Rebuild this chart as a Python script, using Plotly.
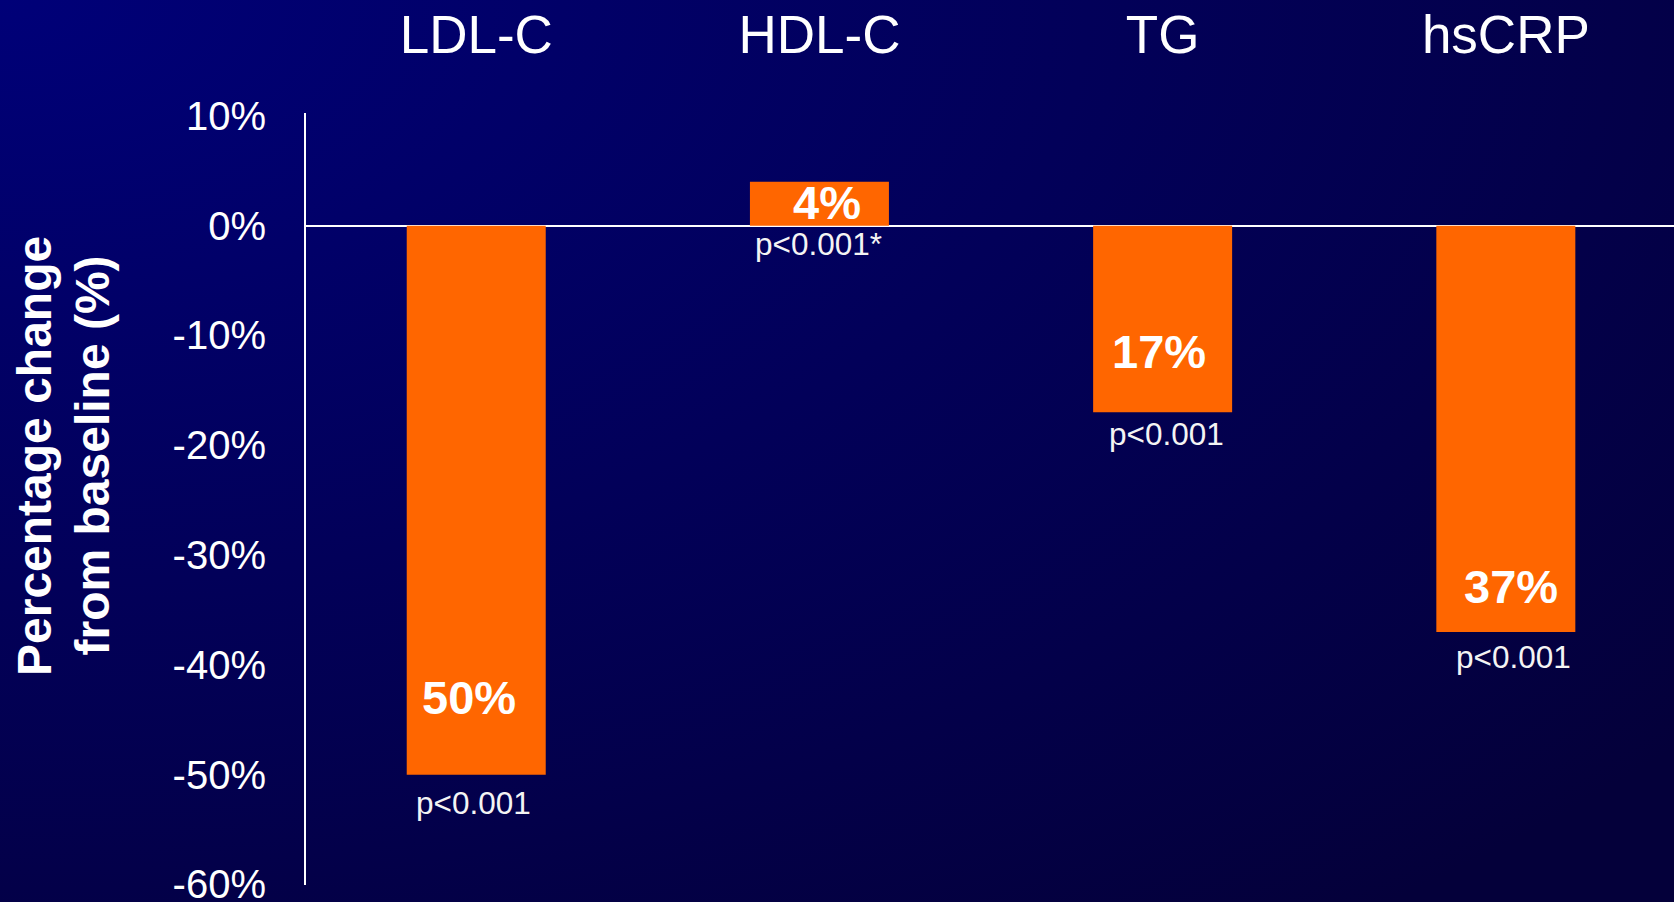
import base64
import plotly.graph_objects as go

# --- data ---------------------------------------------------------------
categories = ["LDL-C", "HDL-C", "TG", "hsCRP"]
pct_change = [-50, 4, -17, -37]
p_values = ["p<0.001", "p<0.001*", "p<0.001", "p<0.001"]
y_ticks = [10, 0, -10, -20, -30, -40, -50, -60]

# --- label placement (data-unit offset from bar end, pixel shifts) -------
value_label_offset = [7.0, -1.85, 5.5, 4.1]
value_label_xshift = [-7, 8, -4, 5]
p_label_yshift = [-8, 2, -2, -5]
p_label_xshift = [-3, -1, 4, 8]

W, H = 1674, 902
M_L, M_R, M_T, M_B = 306, 0, 113, 17
PLOT_W, PLOT_H = W - M_L - M_R, H - M_T - M_B

FONT = "Liberation Sans, Arial, Helvetica, sans-serif"
ORANGE = "#FF6600"

# navy background, brightest at the top-left corner
svg = f"""<svg xmlns='http://www.w3.org/2000/svg' width='{W}' height='{H}'>
<defs><radialGradient id='g' cx='0' cy='0' r='1.3' fx='0' fy='0'>
<stop offset='0' stop-color='#000078'/><stop offset='1' stop-color='#04003a'/>
</radialGradient></defs>
<rect width='{W}' height='{H}' fill='url(#g)'/></svg>"""
bg_src = "data:image/svg+xml;base64," + base64.b64encode(svg.encode()).decode()

fig = go.Figure()
fig.add_trace(go.Bar(
    x=categories,
    y=pct_change,
    width=0.405,
    marker=dict(color=ORANGE, line=dict(width=0)),
    hoverinfo="skip",
))

annotations = []
for i, (cat, v) in enumerate(zip(categories, pct_change)):
    annotations.append(dict(
        x=cat, y=v + value_label_offset[i], xref="x", yref="y",
        text=f"<b>{abs(v)}%</b>", showarrow=False,
        xanchor="center", yanchor="middle", xshift=value_label_xshift[i],
        font=dict(family=FONT, size=47, color="white"),
    ))
    annotations.append(dict(
        x=cat, y=min(v, 0), xref="x", yref="y",
        text=p_values[i], showarrow=False,
        xanchor="center", yanchor="top",
        xshift=p_label_xshift[i], yshift=p_label_yshift[i],
        font=dict(family=FONT, size=31.5, color="#F4F4F4"),
    ))

# rotated two-line axis title
for text, cx in (("Percentage change", 34), ("from baseline (%)", 91.5)):
    annotations.append(dict(
        x=(cx - M_L) / PLOT_W, y=(H - M_B - 456) / PLOT_H,
        xref="paper", yref="paper",
        text=f"<b>{text}</b>",
        textangle=-90, showarrow=False, xanchor="center", yanchor="middle",
        font=dict(family=FONT, size=48, color="white"),
    ))

fig.update_layout(
    width=W, height=H, autosize=False,
    margin=dict(l=M_L, r=M_R, t=M_T, b=M_B, pad=0),
    paper_bgcolor="#00005a",
    plot_bgcolor="rgba(0,0,0,0)",
    showlegend=False,
    annotations=annotations,
    images=[dict(
        source=bg_src, xref="paper", yref="paper",
        x=-M_L / PLOT_W, y=1 + M_T / PLOT_H,
        sizex=W / PLOT_W, sizey=H / PLOT_H,
        xanchor="left", yanchor="top", sizing="stretch", layer="below",
    )],
    xaxis=dict(
        type="category", side="top", range=[-0.496, 3.49],
        showline=False, showgrid=False, automargin=False,
        zeroline=False, ticks="", ticklabelstandoff=48,
        tickfont=dict(family=FONT, size=53, color="white"),
    ),
    yaxis=dict(
        range=[-60.05, 10.26], tickvals=y_ticks,
        ticktext=[f"{t}%" for t in y_ticks], automargin=False,
        showline=True, linecolor="white", linewidth=2,
        showgrid=False, zeroline=True, zerolinecolor="white", zerolinewidth=2,
        ticks="", ticklabelstandoff=30, ticklabeloverflow="allow",
        tickfont=dict(family=FONT, size=40, color="white"),
    ),
)

fig.write_html("out.html", config={"displayModeBar": False})
